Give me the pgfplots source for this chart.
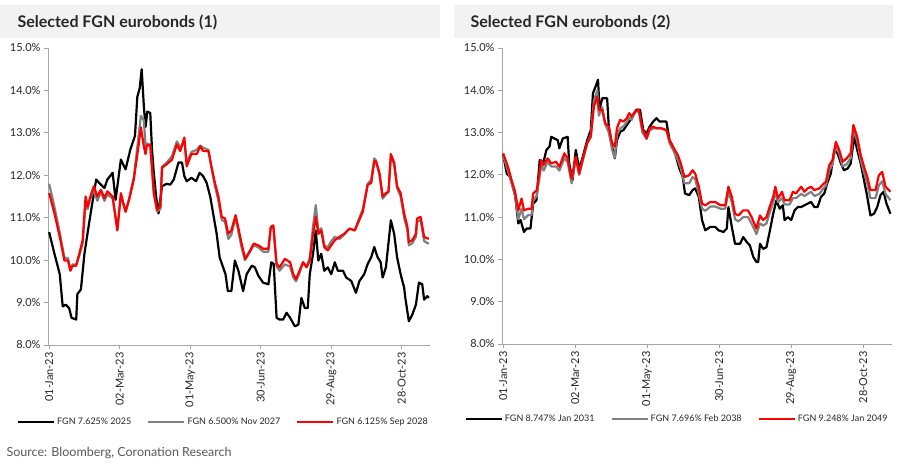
\documentclass[border=0pt]{standalone}
\usepackage{fontspec}
\setmainfont{Lato}
\usepackage{pgfplots}
\pgfplotsset{compat=1.18}
\definecolor{sgray}{HTML}{808080}
\definecolor{band}{HTML}{F2F2F2}
\definecolor{axgray}{HTML}{A6A6A6}
\definecolor{txt}{HTML}{262626}
\pgfplotsset{fgn/.style={
  scale only axis, xmin=-1, xmax=324, ymin=8, ymax=15,
  axis x line*=bottom, axis y line*=left,
  axis line style={axgray, line width=0.8pt},
  ytick={8,9,...,15},
  yticklabel={\pgfmathprintnumber[fixed,fixed zerofill,precision=1]{\tick}\%},
  xtick={0,60,120,180,240,300},
  xticklabels={01-Jan-23,02-Mar-23,01-May-23,30-Jun-23,29-Aug-23,28-Oct-23},
  tick align=outside, major tick length=4pt,
  tick style={axgray, line width=0.8pt},
  /pgf/number format/assume math mode=true,
  x tick label style={rotate=90, anchor=east, font=\fontsize{11}{13}\selectfont, text=txt},
  y tick label style={font=\fontsize{11}{13}\selectfont, text=txt},
  legend columns=3,
  legend style={draw=none, fill=none, font=\fontsize{9}{11}\selectfont, text=txt,
    /tikz/every even column/.append style={column sep=14pt}, anchor=center},
  legend image code/.code={\draw[#1] (0pt,0pt) -- (36pt,0pt);},
  every axis plot/.append style={no marks, line width=2.2pt, line join=round},
}}
\begin{document}
\begin{tikzpicture}[x=1pt,y=1pt]
\useasboundingbox (0,0) rectangle (900,472);
\fill[white] (0,0) rectangle (900,472);
\fill[band] (0,434) rectangle (440,467);
\fill[band] (454,434) rectangle (893,467);
\node[anchor=base west, font=\bfseries\fontsize{16}{19}\selectfont, text=txt] at (14,444.5) {Selected FGN eurobonds (1)};
\node[anchor=base west, font=\bfseries\fontsize{16}{19}\selectfont, text=txt] at (467,444.5) {Selected FGN eurobonds (2)};
\node[anchor=base west, font=\fontsize{12.5}{15}\selectfont, text=black!65] at (3,16) {Source: Bloomberg, Coronation Research};

\begin{axis}[fgn, at={(48pt,127pt)}, anchor=south west, width=382pt, height=297pt,
  legend style={at={(0.459,-0.259)}}]
\addplot[black] coordinates {(0,10.66)(4.5,10.15)(9,9.67)(11.5,8.91)(14,8.95)(17,8.87)(19,8.64)(23,8.60)(24,9.2)(27,9.31)(30,10.15)(33,10.7)(35.5,11.14)(40,11.9)(42.5,11.82)(47,11.7)(49.5,11.9)(54,12.06)(56.5,11.42)(61,12.37)(65,12.14)(69,12.6)(73,12.93)(75,13.85)(77,14.05)(78.7,14.5)(80.6,13.6)(82,13.14)(83.5,13.5)(86,13.47)(87.5,12.6)(89,12.06)(91,11.5)(93,11.1)(96,11.74)(100,11.8)(103,11.78)(106,11.9)(110,12.3)(113,12.3)(115,11.98)(117,11.86)(121,11.94)(125,11.86)(128,12.06)(131,11.98)(134,11.82)(137,11.5)(140,11.02)(142.5,10.62)(145,10.07)(150,9.67)(152,9.27)(155,9.27)(158,9.99)(161,9.75)(165,9.27)(168,9.67)(172.4,9.87)(175,9.83)(178,9.63)(182,9.47)(186.5,9.43)(189,9.95)(191,9.91)(193.5,8.64)(196,8.60)(199,8.60)(202,8.76)(205,8.64)(209,8.44)(212,8.48)(214.6,9.11)(217.5,8.87)(220,8.87)(221.7,9.67)(224.5,10.15)(226.8,10.7)(229,9.99)(231.5,10.15)(234,9.75)(237,9.83)(240,9.67)(243,9.95)(245.6,9.75)(250,9.75)(252.7,9.59)(257,9.51)(261,9.23)(264,9.51)(268,9.67)(271,9.91)(274,10.07)(276.6,10.31)(279.4,10.07)(282,9.95)(283.7,9.59)(286.5,9.83)(290.7,10.94)(293.5,10.62)(296,10.07)(299,9.67)(302,9.35)(303,9.11)(306,8.56)(309,8.72)(312,8.95)(314.6,9.47)(317.4,9.43)(319,9.07)(321.7,9.15)(323,9.11)};
\addlegendentry{FGN 7.625\% 2025}
\addplot[sgray] coordinates {(0,11.8)(4.5,11.25)(9,10.65)(13,10.05)(16,10.05)(18,9.8)(20,9.9)(23,9.9)(25.6,10.1)(28.5,10.4)(31,11.4)(32.7,11.2)(35.5,11.5)(38,11.65)(41,11.4)(44,11.6)(47,11.4)(49.6,11.55)(54,11.45)(58,10.75)(61,11.5)(65,11.15)(68,11.45)(72,11.95)(76,12.9)(78,13.4)(80.5,13.3)(82,12.7)(83,12.75)(86,12.7)(89,11.6)(91.8,11.15)(94.6,11.2)(96,12.2)(100,12.3)(104.5,12.45)(108.7,12.8)(111.5,12.65)(115,12.8)(117,12.3)(121,12.55)(125.6,12.6)(128.5,12.7)(131,12.65)(135.5,12.6)(138,12.2)(141,11.75)(144,11.4)(146.8,10.95)(149.6,10.9)(152.4,10.5)(155,10.6)(158.6,11.0)(160.8,10.7)(163.7,10.3)(166.5,10.0)(171,10.2)(174,10.35)(178,10.3)(182,10.2)(186.5,10.2)(188.5,10.75)(190.7,10.8)(193.5,9.85)(196,9.75)(200.5,9.9)(205,9.85)(207.6,9.6)(210,9.5)(213,9.7)(216,9.95)(219,9.85)(221.7,10.05)(224.5,10.8)(226.8,11.3)(229,10.7)(231.5,10.75)(234,10.35)(237,10.3)(240,10.45)(243,10.55)(247,10.5)(251,10.6)(255.5,10.75)(260,10.7)(262.5,10.9)(266.8,11.2)(271,11.8)(274,11.9)(276.6,12.4)(278,12.35)(281,12.0)(283.7,11.45)(286.5,11.55)(288.7,11.6)(290.7,12.45)(293.5,12.25)(296,11.7)(299,11.5)(302,11.0)(304.8,10.7)(306,10.35)(309,10.4)(312,10.55)(313,10.9)(316,10.95)(319,10.45)(321.7,10.4)(323,10.4)};
\addlegendentry{FGN 6.500\% Nov 2027}
\addplot[red] coordinates {(0,11.58)(4.5,11.1)(9,10.55)(13,9.99)(16,9.99)(18,9.75)(20,9.87)(23,9.87)(25.6,10.15)(28.5,10.47)(31,11.5)(32.7,11.26)(35.5,11.54)(38,11.74)(41,11.5)(44,11.66)(47,11.46)(49.6,11.62)(54,11.5)(58,10.7)(61,11.58)(65,11.14)(68,11.42)(72,11.9)(76,12.69)(78,13.13)(80.5,12.69)(82,12.5)(83,12.69)(86,12.73)(89,11.58)(91.8,11.18)(94.6,11.26)(96,12.18)(100,12.26)(104.5,12.37)(108.7,12.73)(111.5,12.57)(115,12.89)(117,12.21)(121,12.5)(125.6,12.5)(128.5,12.69)(131,12.57)(135.5,12.57)(138,12.21)(141,11.82)(144,11.5)(146.8,11.02)(149.6,10.98)(152.4,10.62)(155,10.7)(158.6,11.06)(160.8,10.78)(163.7,10.39)(166.8,10.03)(171,10.23)(174,10.39)(178,10.35)(182,10.27)(186.5,10.27)(188.5,10.78)(190.7,10.82)(193.5,9.91)(196,9.83)(200.5,10.03)(205,9.95)(207.6,9.67)(210,9.55)(213,9.75)(216,9.95)(219,9.83)(221.7,9.99)(224.5,10.62)(226.8,11.02)(229,10.62)(231.5,10.70)(234,10.31)(237,10.23)(240,10.35)(243,10.47)(247,10.55)(251,10.62)(255.5,10.74)(260,10.70)(262.5,10.86)(266.8,11.14)(271,11.78)(274,11.82)(276.6,12.33)(278,12.33)(281,12.06)(283.7,11.5)(286.5,11.58)(288.7,11.62)(290.7,12.5)(293.5,12.3)(296,11.74)(299,11.58)(302,11.1)(304.8,10.78)(306,10.43)(309,10.47)(312,10.62)(313,10.98)(316,11.02)(319,10.55)(321.7,10.51)(323,10.51)};
\addlegendentry{FGN 6.125\% Sep 2028}
\end{axis}

\begin{axis}[fgn, at={(502pt,128pt)}, anchor=south west, width=390pt, height=296pt,
  legend style={at={(0.449,-0.253)}}]
\addplot[black] coordinates {(0,12.47)(3,12.03)(5.8,11.95)(9.9,11.52)(12.6,10.85)(14.5,10.93)(17.3,10.65)(19.5,10.73)(22.7,10.73)(25,11.32)(27.7,11.40)(30.4,12.35)(33,12.23)(36,12.59)(38.6,12.67)(40,12.9)(42.7,12.86)(45.5,12.82)(46.8,12.63)(49.6,12.86)(53.7,12.9)(55,12.27)(57.8,11.87)(60.5,12.59)(63.3,12.15)(66,12.39)(70,12.82)(73,13.06)(74.8,13.93)(77,14.09)(79,14.25)(80.3,13.54)(82.5,13.81)(86.6,13.81)(88,13.14)(90.7,12.67)(93,12.39)(94.8,12.82)(97.5,13.02)(100.3,13.06)(103,13.18)(107,13.34)(111,13.54)(114,13.54)(116.7,13.06)(119.5,12.98)(122,13.14)(125,13.26)(127.7,13.34)(130.4,13.26)(133,13.26)(136,13.26)(138.6,12.82)(141.4,12.67)(144,12.43)(146.8,12.15)(149.6,11.95)(151.5,11.56)(155,11.52)(157.8,11.64)(160,11.68)(163,11.48)(165.7,10.93)(168.4,10.69)(172.6,10.77)(176.7,10.77)(179.4,10.69)(183.6,10.65)(186.3,10.73)(187.7,11.24)(190.5,10.77)(193.2,10.37)(197.4,10.37)(200,10.53)(203,10.41)(205.6,10.33)(208.4,10.06)(211,9.94)(212.5,9.94)(214,10.37)(216.6,10.25)(219.4,10.29)(222,10.65)(225,11.08)(227.7,11.4)(230.4,11.2)(233,11.28)(234.5,10.93)(237.3,11.0)(240,10.93)(242.8,11.16)(245.6,11.24)(248.3,11.24)(251,11.28)(253.8,11.32)(256.5,11.36)(259.3,11.24)(262,11.24)(264.8,11.48)(267.6,11.56)(270,11.8)(273,12.03)(275.9,12.59)(278.6,12.51)(281.4,12.27)(284,12.11)(287,12.15)(289.6,12.27)(292.4,12.9)(295,12.59)(297.9,12.27)(300.7,11.87)(303.4,11.48)(306,11.04)(309,11.08)(311.7,11.24)(314.4,11.52)(317,11.6)(319.4,11.32)(322.7,11.08)};
\addlegendentry{FGN 8.747\% Jan 2031}
\addplot[sgray] coordinates {(0,12.45)(4.4,12.05)(7,11.8)(9.9,11.5)(12.6,10.95)(15.3,11.2)(17.3,10.95)(20.8,11.05)(23.6,11.05)(25,11.4)(28,11.5)(31.8,12.25)(33.7,12.1)(37,12.3)(40,12.2)(44,12.2)(46.8,12.1)(51,12.4)(53.7,12.3)(57,11.8)(60.5,12.4)(63.3,12.0)(66,12.3)(70,12.75)(73,12.95)(75.6,13.75)(78.4,14.0)(79.7,13.4)(82.5,13.6)(85,13.2)(88,13.0)(90.7,12.6)(93,12.4)(94.8,12.95)(97.5,13.1)(100.3,13.15)(103,13.25)(105,13.35)(107,13.3)(110,13.5)(113,13.5)(116,13.0)(119.5,12.85)(122,13.05)(125,13.1)(127.7,13.1)(131.8,13.1)(136,13.05)(138.6,12.75)(141.4,12.6)(145.5,12.35)(148,12.15)(151,11.8)(155,11.8)(157.8,11.95)(160,11.9)(163,11.55)(165.7,11.2)(168.4,11.15)(172.6,11.25)(176.7,11.25)(181,11.2)(185,11.2)(187.7,11.6)(190.5,11.35)(193.2,10.95)(196,10.9)(200,11.0)(204,11.0)(207,10.85)(211,10.6)(214,10.85)(216.6,10.8)(219.4,10.85)(222,11.1)(225,11.35)(226.8,11.6)(229,11.35)(232.3,11.45)(234.5,11.3)(238.7,11.3)(241.4,11.45)(244,11.45)(248.3,11.55)(251,11.5)(253.8,11.55)(256.5,11.6)(259.3,11.5)(263.5,11.55)(266,11.65)(269,11.75)(271.7,12.1)(274.5,12.25)(277.2,12.7)(280,12.5)(282.8,12.2)(286.3,12.25)(289.6,12.4)(291.8,13.05)(295,12.8)(297.9,12.35)(300.7,12.05)(303.4,11.8)(306,11.45)(310.3,11.45)(313,11.75)(315.8,11.85)(318.6,11.55)(322.7,11.4)};
\addlegendentry{FGN 7.696\% Feb 2038}
\addplot[red] coordinates {(0,12.51)(4.4,12.15)(7,11.87)(9.9,11.6)(12.6,11.16)(15.3,11.44)(17.3,11.16)(20.8,11.2)(23.6,11.2)(25,11.56)(28,11.64)(31.8,12.35)(33.7,12.23)(37,12.39)(40,12.27)(44,12.31)(46.8,12.19)(51,12.51)(53.7,12.39)(57,11.91)(60.5,12.43)(63.3,12.03)(66,12.35)(70,12.75)(73,12.9)(75.6,13.62)(78.4,13.85)(79.7,13.54)(82.5,13.54)(85,13.22)(88,13.14)(90.7,12.75)(93,12.67)(94.8,13.1)(97.5,13.3)(100.3,13.26)(103,13.34)(105,13.46)(107,13.38)(110,13.5)(113,13.54)(116,13.1)(119.5,12.86)(122,13.1)(125,13.14)(127.7,13.1)(131.8,13.1)(136,13.06)(138.6,12.82)(141.4,12.67)(145.5,12.47)(148,12.27)(151,11.95)(155,11.99)(157.8,12.11)(160,12.03)(163,11.72)(165.7,11.32)(168.4,11.28)(172.6,11.36)(176.7,11.36)(181,11.28)(185,11.28)(187.7,11.72)(190.5,11.48)(193.2,11.08)(196,11.04)(200,11.16)(204,11.16)(207,11.0)(211,10.73)(214,11.04)(216.6,10.93)(219.4,11.0)(222,11.24)(225,11.48)(226.8,11.72)(229,11.44)(232.3,11.6)(234.5,11.4)(238.7,11.4)(241.4,11.6)(244,11.56)(248.3,11.72)(251,11.6)(253.8,11.68)(256.5,11.72)(259.3,11.64)(263.5,11.68)(266,11.76)(269,11.84)(271.7,12.23)(274.5,12.35)(277.2,12.78)(280,12.59)(282.8,12.31)(286.3,12.39)(289.6,12.51)(291.8,13.18)(295,12.9)(297.9,12.47)(300.7,12.19)(303.4,11.95)(306,11.64)(310.3,11.64)(313,11.99)(315.8,12.07)(318.6,11.72)(322.7,11.6)};
\addlegendentry{FGN 9.248\% Jan 2049}
\end{axis}
\end{tikzpicture}
\end{document}
